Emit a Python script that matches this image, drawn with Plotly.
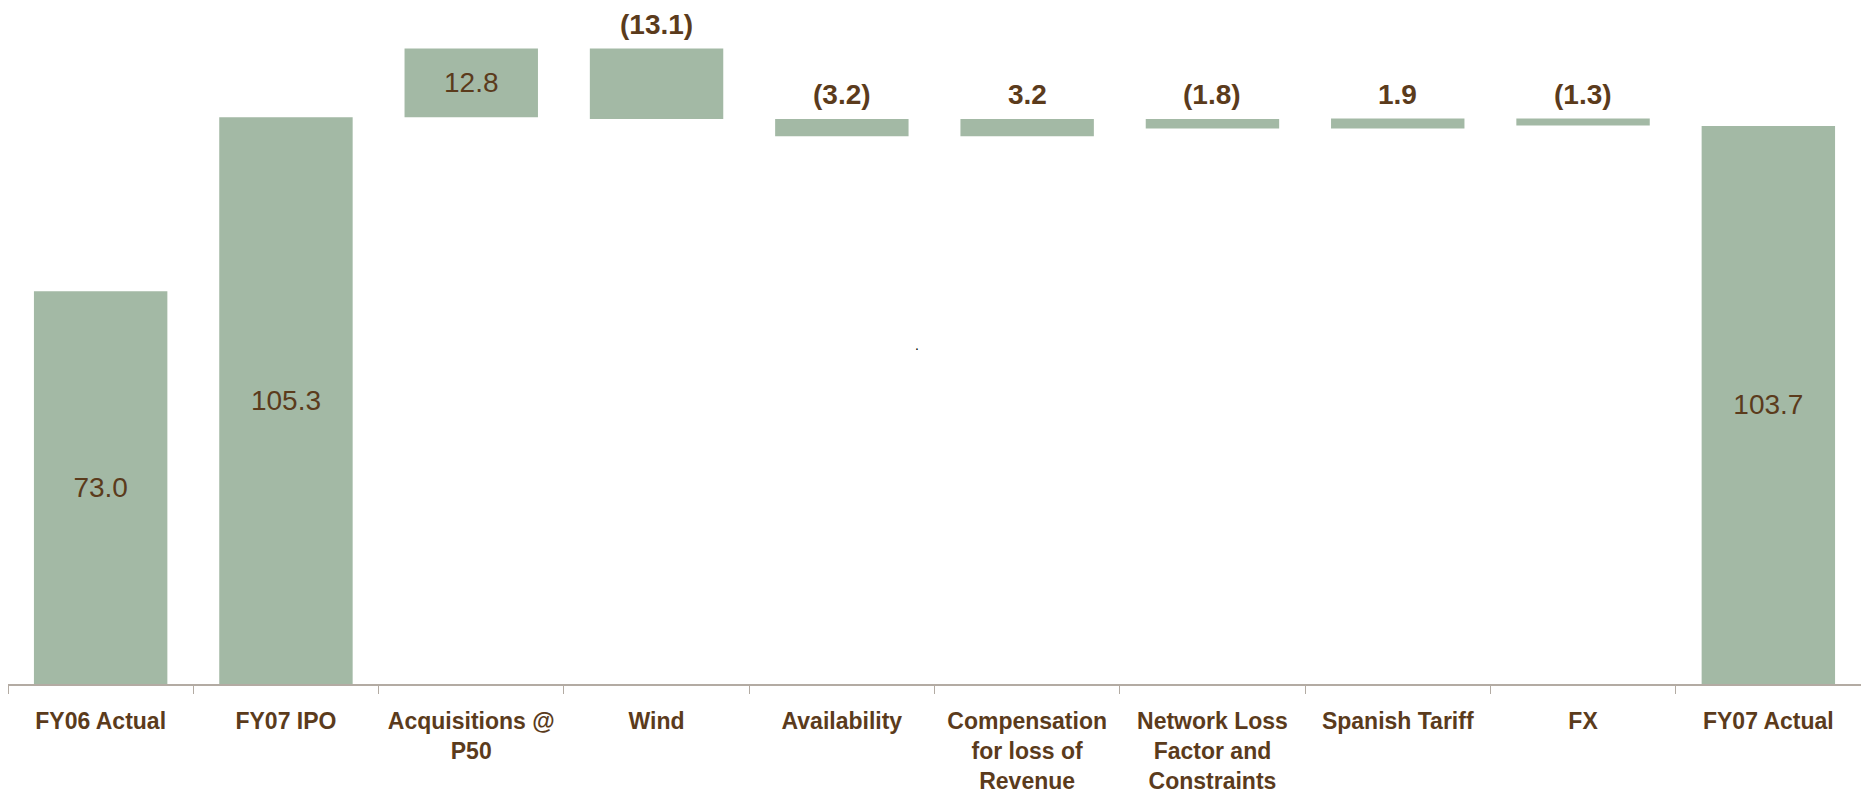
import plotly.graph_objects as go

# Revenue bridge, FY06 actual -> FY07 actual
categories = [
    "FY06 Actual",
    "FY07 IPO",
    "Acquisitions @<br>P50",
    "Wind",
    "Availability",
    "Compensation<br>for loss of<br>Revenue",
    "Network Loss<br>Factor and<br>Constraints",
    "Spanish Tariff",
    "FX",
    "FY07 Actual",
]
values = [73.0, 105.3, 12.8, -13.1, -3.2, 3.2, -1.8, 1.9, -1.3, 103.7]
measures = ["absolute", "absolute", "relative", "relative", "relative",
            "relative", "relative", "relative", "relative", "absolute"]

BAR = "#A3B9A5"
TEXT = "#5B3B1C"
AXIS = "#B3ABA3"
FONT = "Liberation Sans, Arial, sans-serif"


def fmt(v, measure):
    if measure == "relative" and v < 0:
        return f"({abs(v):.1f})"
    return f"{v:.1f}"


labels = [fmt(v, m) for v, m in zip(values, measures)]

# Running totals give each bar's top edge (used to place outside labels)
tops = []
level = 0.0
for v, m in zip(values, measures):
    if m == "absolute":
        start, level = 0.0, v
        tops.append(v)
    else:
        start = level
        level = level + v
        tops.append(max(start, level))

# Big bars carry their label in the middle; the small steps get it above
inside = [m == "absolute" or v >= 10 for v, m in zip(values, measures)]

fig = go.Figure()
fig.add_trace(go.Waterfall(
    x=categories,
    y=values,
    measure=measures,
    text=[t if ins else "" for t, ins in zip(labels, inside)],
    textposition="inside",
    insidetextanchor="middle",
    textfont=dict(family=FONT, size=28, color=TEXT),
    increasing=dict(marker=dict(color=BAR)),
    decreasing=dict(marker=dict(color=BAR)),
    totals=dict(marker=dict(color=BAR)),
    connector=dict(visible=False),
    hoverinfo="skip",
))

for cat, top, lab, ins in zip(categories, tops, labels, inside):
    if ins:
        continue
    fig.add_annotation(
        x=cat, y=top, text=f"<b>{lab}</b>", showarrow=False,
        yanchor="middle", yshift=24,
        font=dict(family=FONT, size=28, color=TEXT),
    )

fig.add_annotation(
    xref="paper", yref="paper", x=(917 - 8) / 1853, y=(684 - 345) / 684,
    text=".", showarrow=False, font=dict(family=FONT, size=14, color="#000000"),
)

fig.update_layout(
    width=1861,
    height=797,
    margin=dict(l=8, r=0, t=0, b=113),
    paper_bgcolor="white",
    plot_bgcolor="white",
    showlegend=False,
    waterfallgap=0.28,
    xaxis=dict(
        type="category",
        showline=True,
        linecolor=AXIS,
        linewidth=1.5,
        ticks="outside",
        tickson="boundaries",
        ticklen=8,
        tickcolor=AXIS,
        tickwidth=1,
        ticklabelstandoff=16,
        showgrid=False,
        tickfont=dict(family=FONT, size=23, color=TEXT, weight="bold"),
        fixedrange=True,
    ),
    yaxis=dict(
        range=[0, 127.1],
        visible=False,
        showgrid=False,
        zeroline=False,
        fixedrange=True,
    ),
)

fig.write_html("out.html", config={"displayModeBar": False})
